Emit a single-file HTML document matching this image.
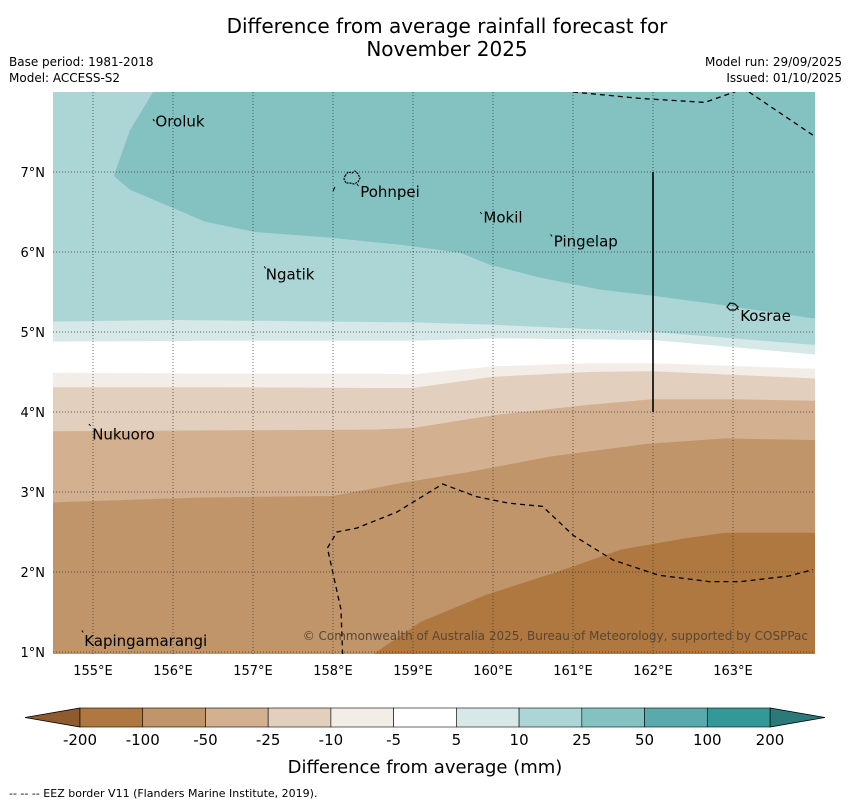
<!DOCTYPE html>
<html><head><meta charset="utf-8"><style>
body{margin:0;background:#fff;font-family:"Liberation Sans","DejaVu Sans",sans-serif;}
svg text{font-family:"DejaVu Sans","Liberation Sans",sans-serif;}
</style></head><body>
<svg id="chart" width="850" height="804" viewBox="0 0 850 804" xmlns="http://www.w3.org/2000/svg">
<text x="447" y="33" font-size="20" text-anchor="middle">Difference from average rainfall forecast for</text>
<text x="447" y="56" font-size="20" text-anchor="middle">November 2025</text>
<text x="9" y="66" font-size="12">Base period: 1981-2018</text>
<text x="9" y="82" font-size="12">Model: ACCESS-S2</text>
<text x="842" y="66" font-size="12" text-anchor="end">Model run: 29/09/2025</text>
<text x="842" y="82" font-size="12" text-anchor="end">Issued: 01/10/2025</text>
<defs><clipPath id="mapclip"><rect x="53" y="92" width="762" height="562"/></clipPath></defs>
<g id="map" clip-path="url(#mapclip)"></g>
<g id="axes"></g>
<g id="cbar"></g>
<text x="425" y="773" font-size="18" text-anchor="middle">Difference from average (mm)</text>
<text x="9" y="797" font-size="11">--  --  -- EEZ border V11 (Flanders Marine Institute, 2019).</text>
</svg>
<script>
const lonTicks=[155,156,157,158,159,160,161,162,163];
const latTicks=[1,2,3,4,5,6,7];
const levelLabels=["-200","-100","-50","-25","-10","-5","5","10","25","50","100","200"];
const levelColors=["#ae7840","#c0956a","#d3b08f","#e3cfbd","#f2ede6","#ffffff","#d6e9e8","#acd6d5","#84c2c1","#58abaa","#339998"];
const b_m100=[[158.5,0.97],[159.1,1.38],[159.9,1.71],[160.8,2.0],[161.6,2.28],[162.4,2.42],[162.9,2.49],[164,2.49]];
const b_m50=[[154.5,2.87],[156.3,2.93],[158.0,2.95],[158.9,3.12],[159.7,3.25],[160.7,3.44],[161.9,3.6],[162.9,3.67],[164,3.65]];
const b_m25=[[154.5,3.76],[156.5,3.77],[158.5,3.78],[159.0,3.8],[160.0,3.96],[161.2,4.09],[162.0,4.16],[163.0,4.16],[164,4.14]];
const b_m10=[[154.5,4.31],[156.5,4.31],[158.5,4.3],[159.0,4.3],[160.0,4.44],[161.2,4.5],[162.0,4.51],[164,4.42]];
const b_m5=[[154.5,4.49],[156.5,4.48],[158.5,4.48],[159.0,4.47],[160.0,4.57],[161.2,4.61],[162.0,4.61],[164,4.54]];
const b_p5=[[154.5,4.88],[156.5,4.89],[158.5,4.89],[159.0,4.89],[160.0,4.92],[162.0,4.9],[164,4.72]];
const b_p10=[[154.5,5.13],[156.0,5.15],[158.0,5.13],[159.0,5.12],[160.0,5.09],[162.0,5.0],[164,4.84]];
const b_p25=[[155.75,8.0],[155.46,7.52],[155.26,6.95],[155.46,6.78],[156.4,6.38],[157.02,6.25],[157.96,6.18],[158.84,6.09],[159.59,5.99],[159.96,5.84],[160.59,5.68],[161.34,5.53],[162.09,5.44],[162.84,5.34],[164,5.17]];
const eez1=[[161.0,8.0],[161.84,7.92],[162.65,7.87],[163.1,8.03]];
const eez2=[[163.2,8.0],[164,7.46]];
const eez3=[[158.12,0.97],[158.1,1.53],[157.93,2.3],[158.05,2.5],[158.3,2.55],[158.8,2.75],[159.37,3.1],[159.8,2.94],[160.2,2.86],[160.62,2.82],[161.0,2.46],[161.5,2.15],[162.07,1.96],[162.7,1.88],[163.1,1.88],[163.7,1.95],[164,2.03]];
const places=[["Oroluk",155.78,7.63,155.75,7.66],["Pohnpei",158.34,6.75,158.3,6.85],["Mokil",159.88,6.43,159.84,6.5],["Pingelap",160.76,6.13,160.72,6.22],["Ngatik",157.16,5.72,157.14,5.82],["Kosrae",163.09,5.2,163.05,5.3],["Nukuoro",154.99,3.72,154.95,3.85],["Kapingamarangi",154.89,1.14,154.86,1.27]];
const xs=lon=>53+(lon-154.5)*80;
const ys=lat=>172-(lat-7)*80;
const NS="http://www.w3.org/2000/svg";
function mk(tag,attrs,parent){const e=document.createElementNS(NS,tag);for(const k in attrs)e.setAttribute(k,attrs[k]);parent.appendChild(e);return e;}
const mapG=document.getElementById('map');
const pts=a=>a.map(p=>xs(p[0]).toFixed(1)+","+ys(p[1]).toFixed(1));
const baseRect=mk('rect',{x:53,y:92,width:762,height:562,fill:levelColors[0]},mapG);


const bounds=[b_m100,b_m50,b_m25,b_m10,b_m5,b_p5,b_p10];
bounds.forEach((b,i)=>{
  const poly=pts(b).concat([xs(164.2)+","+ys(b[b.length-1][1]),xs(164.2)+","+ys(8.2),xs(154.3)+","+ys(8.2)]);
  if(b[0][0]>154.5) poly.push(xs(154.3)+","+ys(0.9),xs(b[0][0])+","+ys(0.9));
  else poly.push(xs(154.3)+","+ys(b[0][1]));
  const p=mk('polygon',{points:poly.join(" "),fill:levelColors[i+1]},mapG);
  
  
});
const topBand=mk('polygon',{points:pts(b_p25).concat([xs(164.2)+","+ys(5.17),xs(164.2)+","+ys(8.2),xs(155.75)+","+ys(8.2)]).join(" "),fill:levelColors[8]},mapG);


lonTicks.forEach(l=>{mk('line',{x1:xs(l),x2:xs(l),y1:92,y2:654,stroke:"#333","stroke-width":0.7,"stroke-dasharray":"1,2"},mapG);});
latTicks.forEach(l=>{mk('line',{x1:53,x2:815,y1:ys(l),y2:ys(l),stroke:"#333","stroke-width":0.7,"stroke-dasharray":"1,2"},mapG);});
[eez1,eez2,eez3].forEach((e,i)=>{const p=mk('polyline',{points:pts(e).join(" "),fill:"none",stroke:"#000","stroke-width":1.3,"stroke-dasharray":"5,4"},mapG);});
const bl=mk('line',{x1:xs(162),x2:xs(162),y1:ys(7),y2:ys(4),stroke:"#000","stroke-width":1.6},mapG);


const pohn=mk('path',{d:"M345,176 l3,-4 l4,1 l3,-2 l3,3 l2,4 l-2,4 l-4,2 l-4,-1 l-4,0 l-2,-4z",fill:"none",stroke:"#000","stroke-width":1.2,"stroke-dasharray":"2,1"},mapG);


const kos=mk('path',{d:"M727,307 l3,-4 l5,1 l3,3 l-3,3 l-5,0z",fill:"none",stroke:"#000","stroke-width":1.2},mapG);


mk('line',{x1:333,y1:191,x2:335,y2:187,stroke:"#000"},mapG);
places.forEach(p=>{
  mk('line',{x1:xs(p[3]),y1:ys(p[4]),x2:xs(p[3])+1.5,y2:ys(p[4])+2,stroke:"#000","stroke-width":1},mapG);
  const t=mk('text',{x:xs(p[1]),y:ys(p[2])+5,"font-size":15},mapG);
  t.textContent=p[0];
  
  
});
const cr=mk('text',{x:808,y:640,"font-size":12,"text-anchor":"end",fill:"#5a4630"},mapG);
cr.textContent="© Commonwealth of Australia 2025, Bureau of Meteorology, supported by COSPPac";


const ax=document.getElementById('axes');
lonTicks.forEach(l=>{const t=mk('text',{x:xs(l),y:675,"font-size":13,"text-anchor":"middle"},ax);t.textContent=l+"°E";});
latTicks.forEach(l=>{const t=mk('text',{x:45,y:ys(l)+5,"font-size":13,"text-anchor":"end"},ax);t.textContent=l+"°N";});
const cb=document.getElementById('cbar');
const cx0=80,cx1=770,cy0=708,cy1=727,sw=(cx1-cx0)/levelColors.length;
const lt=mk('polygon',{points:`25,717.5 ${cx0},${cy0} ${cx0},${cy1}`,fill:"#8f5a2e",stroke:"#000","stroke-width":0.8},cb);


const rt=mk('polygon',{points:`825,717.5 ${cx1},${cy0} ${cx1},${cy1}`,fill:"#2b7a7a",stroke:"#000","stroke-width":0.8},cb);


levelColors.forEach((c,i)=>{const r=mk('rect',{x:cx0+i*sw,y:cy0,width:sw,height:cy1-cy0,fill:c,stroke:"#000","stroke-width":0.6},cb);});
levelLabels.forEach((l,i)=>{const t=mk('text',{x:cx0+i*sw,y:745,"font-size":15,"text-anchor":"middle"},cb);t.textContent=l;});
</script>
</body></html>
